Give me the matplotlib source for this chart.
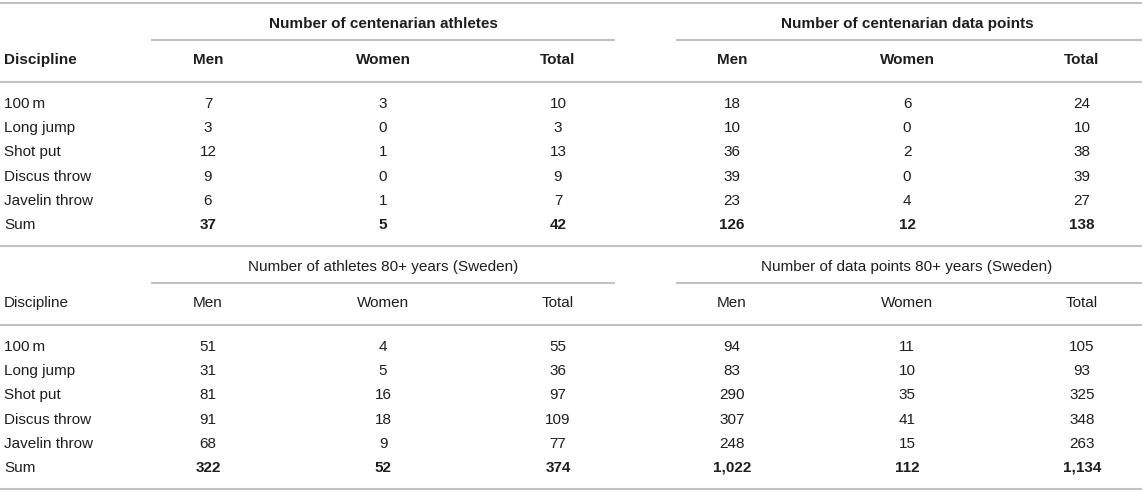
import matplotlib
matplotlib.use("Agg")
import matplotlib.pyplot as plt

plt.rcParams['font.family'] = ['Liberation Sans', 'DejaVu Sans']

disciplines = ["100\u2009m", "Long jump", "Shot put", "Discus throw", "Javelin throw"]
sub_cols = ["Men", "Women", "Total"]

# top table: centenarians
cent_groups = ["Number of centenarian athletes", "Number of centenarian data points"]
cent_ath_men = [7, 3, 12, 9, 6]
cent_ath_women = [3, 0, 1, 0, 1]
cent_ath_total = [10, 3, 13, 9, 7]
cent_dp_men = [18, 10, 36, 39, 23]
cent_dp_women = [6, 0, 2, 0, 4]
cent_dp_total = [24, 10, 38, 39, 27]
cent_sums = ["37", "5", "42", "126", "12", "138"]

# bottom table: Swedish 80+
swe_groups = ["Number of athletes 80+ years (Sweden)", "Number of data points 80+ years (Sweden)"]
swe_ath_men = [51, 31, 81, 91, 68]
swe_ath_women = [4, 5, 16, 18, 9]
swe_ath_total = [55, 36, 97, 109, 77]
swe_dp_men = [94, 83, 290, 307, 248]
swe_dp_women = [11, 10, 35, 41, 15]
swe_dp_total = [105, 93, 325, 348, 263]
swe_sums = ["322", "52", "374", "1,022", "112", "1,134"]

W, H = 1142, 492
fig = plt.figure(figsize=(W / 100, H / 100), dpi=100)
ax = fig.add_axes([0, 0, 1, 1])
ax.set_xlim(0, W)
ax.set_ylim(H, 0)
ax.axis('off')

txt = '#1e1e1e'
line_c = '#c2c2c2'
fs = 11
col_x = [208, 383, 558, 732, 907, 1082]
group_x = [383, 907]
group_span = [(151, 615), (676, 1142)]


def draw_table(y0, groups, cols, sums, bold_head):
    # y0 = top rule
    hw = 'bold' if bold_head else 'normal'
    ax.plot([0, W], [y0, y0], color=line_c, lw=1.5, solid_capstyle='butt')
    for gx, g, (a, b) in zip(group_x, groups, group_span):
        ax.text(gx, y0 + 21, g, ha='center', va='center', fontsize=fs,
                fontweight=hw, color=txt)
        ax.plot([a, b], [y0 + 37, y0 + 37], color=line_c, lw=1.5, solid_capstyle='butt')
    ax.text(4, y0 + 57, "Discipline", ha='left', va='center', fontsize=fs,
            fontweight=hw, color=txt)
    for cx, c in zip(col_x, sub_cols * 2):
        ax.text(cx, y0 + 57, c, ha='center', va='center', fontsize=fs,
                fontweight=hw, color=txt)
    ax.plot([0, W], [y0 + 79, y0 + 79], color=line_c, lw=1.5, solid_capstyle='butt')
    for i, d in enumerate(disciplines):
        y = y0 + 101 + 24.2 * i
        ax.text(4, y, d, ha='left', va='center', fontsize=fs, color=txt)
        for cx, col in zip(col_x, cols):
            ax.text(cx, y, str(col[i]), ha='center', va='center', fontsize=fs, color=txt)
    y = y0 + 101 + 24.2 * 5
    ax.text(4, y, "Sum", ha='left', va='center', fontsize=fs, color=txt)
    for cx, s in zip(col_x, sums):
        ax.text(cx, y, s, ha='center', va='center', fontsize=fs,
                fontweight='bold', color=txt)


draw_table(3, cent_groups,
           [cent_ath_men, cent_ath_women, cent_ath_total,
            cent_dp_men, cent_dp_women, cent_dp_total],
           cent_sums, True)
draw_table(246, swe_groups,
           [swe_ath_men, swe_ath_women, swe_ath_total,
            swe_dp_men, swe_dp_women, swe_dp_total],
           swe_sums, False)
ax.plot([0, W], [489, 489], color=line_c, lw=1.5, solid_capstyle='butt')

fig.savefig("out.png", dpi=100)
